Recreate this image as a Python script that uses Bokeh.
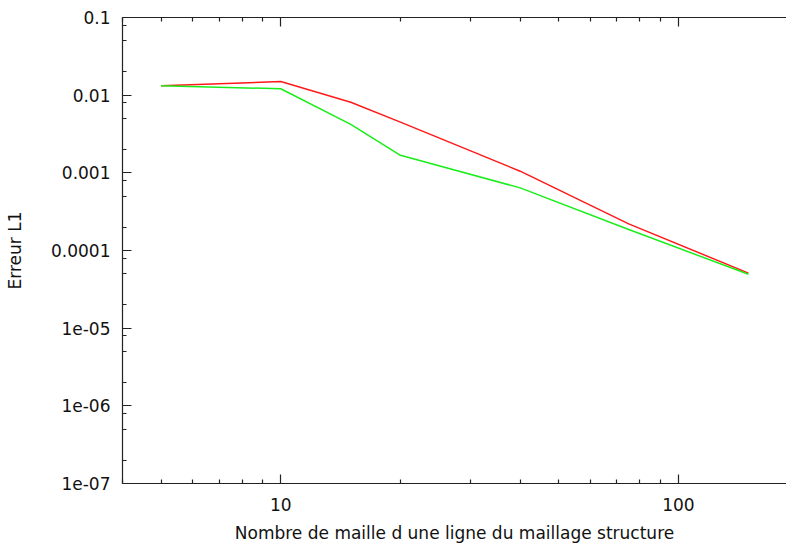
from bokeh.plotting import figure
from bokeh.models import LogAxis, FixedTicker, Range1d, ColumnDataSource
from bokeh.embed import file_html
from bokeh.resources import INLINE

# --- data ---
x_mesh = [5, 10, 15, 20, 40, 75, 150]
err_red = [0.0132, 0.0150, 0.0081, 0.0045, 0.00105, 0.00022, 0.0000512]
err_green = [0.0132, 0.0121, 0.0042, 0.00168, 0.00064, 0.000186, 0.0000495]

x_major = [10, 100]
x_major_labels = ["10", "100"]
x_minor = [4, 5, 6, 7, 8, 9, 20, 30, 40, 50, 60, 70, 80, 90, 200]

y_major = [1e-7, 1e-6, 1e-5, 1e-4, 1e-3, 1e-2, 1e-1]
y_major_labels = ["1e-07", "1e-06", "1e-05", "0.0001", "0.001", "0.01", "0.1"]
y_minor = [2e-7, 5e-7, 8e-7, 2e-6, 5e-6, 8e-6, 2e-5, 5e-5, 8e-5,
           2e-4, 5e-4, 8e-4, 2e-3, 5e-3, 8e-3, 2e-2, 5e-2, 8e-2]

x_title = "Nombre de maille d une ligne du maillage structure"
y_title = "Erreur L1"

FONT = "DejaVu Sans"
FS = "17px"

p = figure(width=786, height=548, x_axis_type="log", y_axis_type="log",
           x_range=Range1d(4.0, 187), y_range=Range1d(1e-7, 0.1),
           output_backend="svg", toolbar_location=None,
           min_border_left=122, min_border_right=0,
           min_border_top=17, min_border_bottom=65)
p.outline_line_color = None
p.xgrid.visible = False
p.ygrid.visible = False
p.background_fill_color = "white"
p.border_fill_color = "white"

src_r = ColumnDataSource(dict(x=x_mesh, y=err_red))
src_g = ColumnDataSource(dict(x=x_mesh, y=err_green))
p.line("x", "y", source=src_r, line_color="#ff1a1a", line_width=1.5)
p.line("x", "y", source=src_g, line_color="#1aee1a", line_width=1.5)


def style(ax):
    ax.axis_line_color = "#222222"
    ax.axis_line_width = 1.2
    ax.major_tick_line_color = "#222222"
    ax.minor_tick_line_color = "#222222"
    ax.major_tick_line_width = 1.2
    ax.minor_tick_line_width = 1.2
    ax.major_tick_in = 9
    ax.major_tick_out = 0
    ax.minor_tick_in = 4
    ax.minor_tick_out = 0
    ax.major_label_text_font = FONT
    ax.major_label_text_font_size = FS
    ax.major_label_text_color = "#111111"
    ax.axis_label_text_font = FONT
    ax.axis_label_text_font_size = FS
    ax.axis_label_text_font_style = "normal"
    ax.axis_label_text_color = "#111111"


xa = p.xaxis[0]
xa.ticker = FixedTicker(ticks=x_major, minor_ticks=x_minor)
xa.major_label_overrides = {v: s for v, s in zip(x_major, x_major_labels)}
style(xa)
xa.major_label_standoff = 14
xa.axis_label = x_title
xa.axis_label_standoff = 9

ya = p.yaxis[0]
ya.ticker = FixedTicker(ticks=y_major, minor_ticks=y_minor)
ya.major_label_overrides = {v: s for v, s in zip(y_major, y_major_labels)}
style(ya)
ya.major_label_standoff = 12
ya.axis_label = y_title
ya.axis_label_standoff = 23

top = LogAxis(ticker=FixedTicker(ticks=x_major, minor_ticks=x_minor))
style(top)
top.major_label_text_font_size = "0px"
top.major_label_standoff = 0
top.major_label_overrides = {v: "" for v in x_major}
p.add_layout(top, "above")

open("out.html", "w").write(file_html(p, INLINE))
